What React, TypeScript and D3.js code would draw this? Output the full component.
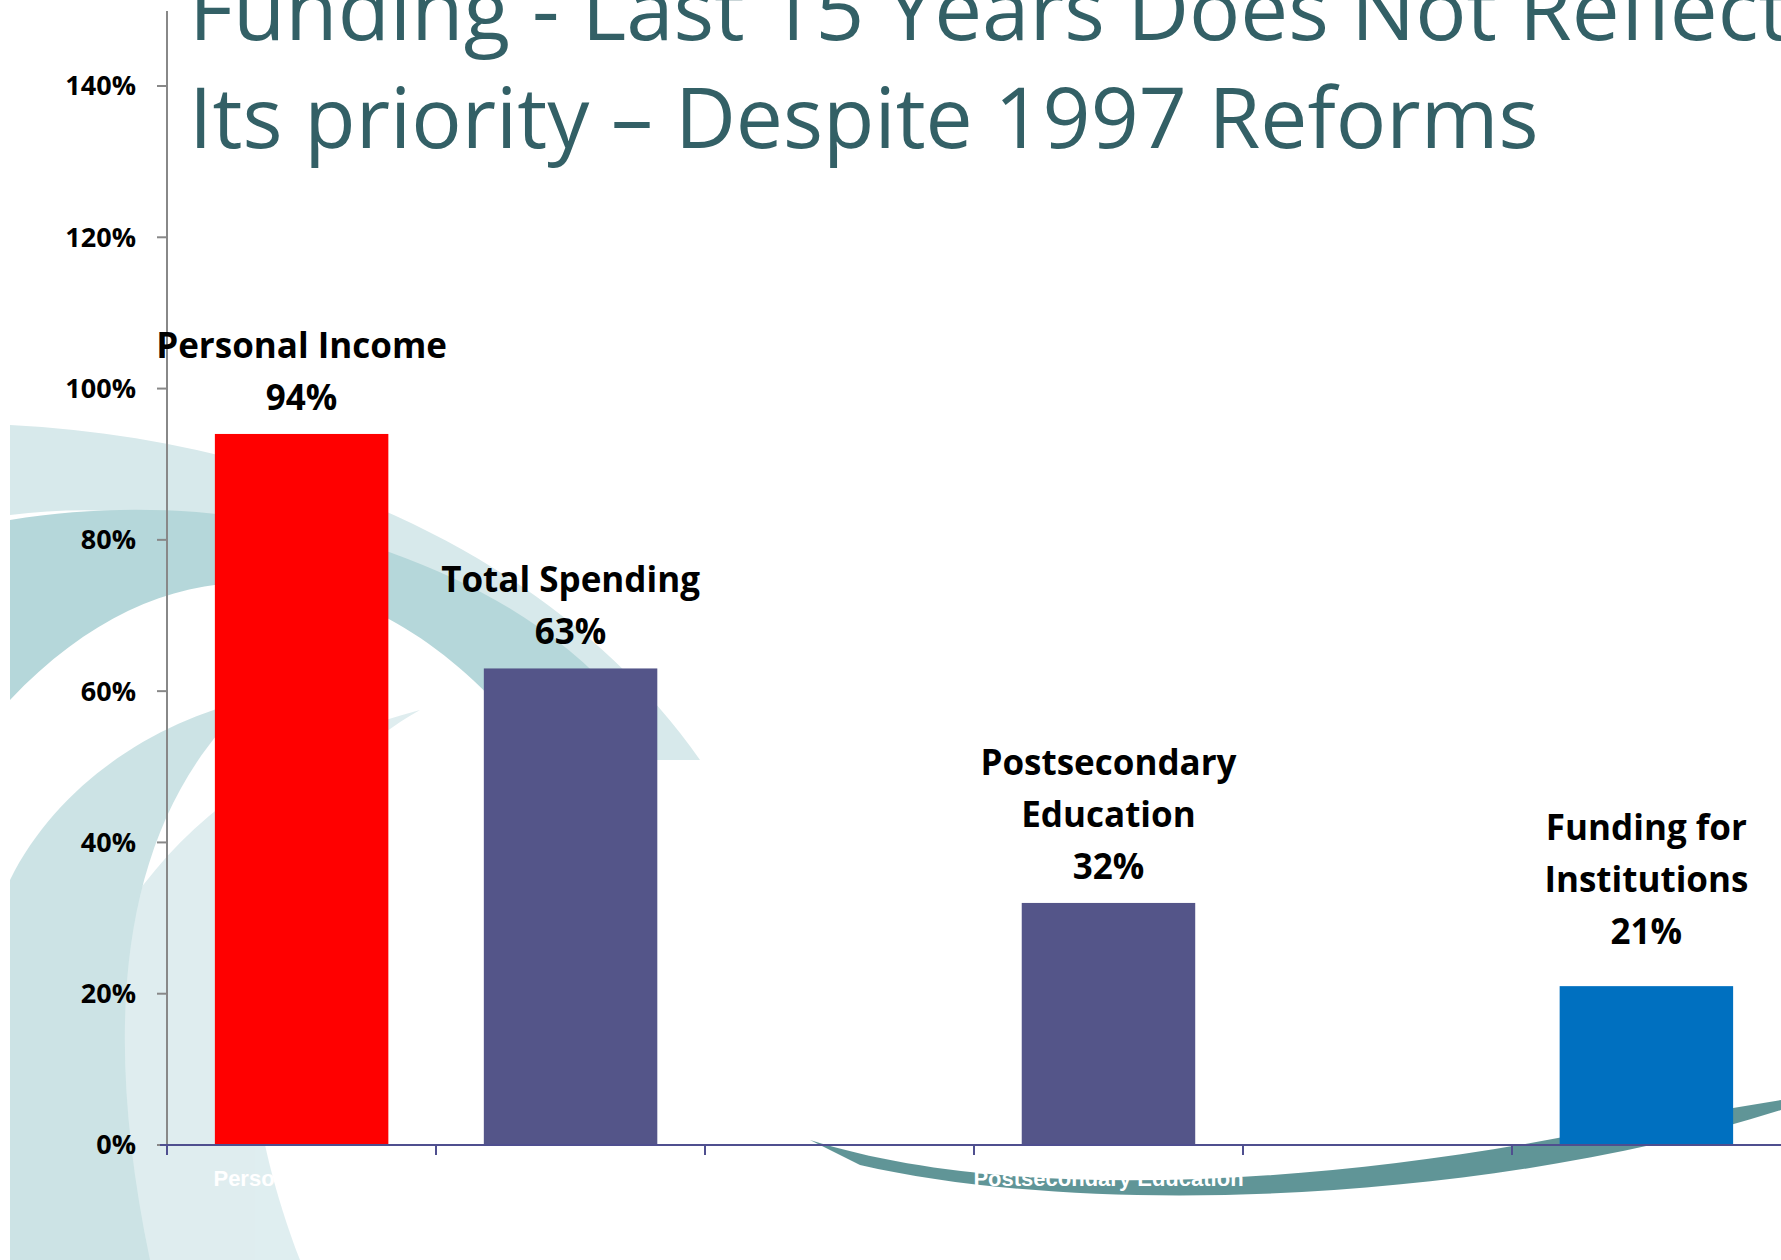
import * as d3 from "d3";

const categories = ["Personal Income", "Total Spending", "", "Postsecondary Education", "", "Funding for Institutions"];
const values = [94, 63, null, 32, null, 21];
const labelLines = [["Personal Income", "94%"], ["Total Spending", "63%"], [], ["Postsecondary", "Education", "32%"], [], ["Funding for", "Institutions", "21%"]];
const barColors = ["#ff0000", "#545589", "", "#545589", "", "#0070c0"];
const yTicks = [0, 20, 40, 60, 80, 100, 120, 140];

const W = 1781, H = 1260;
const labelGap = [24, 24, 0, 24, 0, 42];
const x = d3.scaleBand<number>().domain(d3.range(categories.length)).range([167, 167 + 269 * 6]).paddingInner(0.355).paddingOuter(0.178);
const y = d3.scaleLinear().domain([0, 140]).range([1145, 86]);

export default function App() {
  const band = d3.scaleBand<number>().domain(d3.range(6)).range([167, 167 + 269 * 6]);
  return (
    <svg width={W} height={H} style={{ position: "absolute", left: 0, top: 0, background: "#fff" }} fontFamily="'Open Sans', sans-serif">
      {/* background swirl decoration */}
      <g opacity={0.9}>
        <path d="M10,425 C300,440 560,560 700,760 L560,760 C430,560 200,490 10,515 Z" fill="#d3e7e9" />
        <path d="M10,520 C250,480 500,560 620,700 L520,730 C380,560 180,520 10,700 Z" fill="#aed3d6" />
        <path d="M55,1260 C20,1000 150,780 420,710 C260,800 200,1000 300,1260 Z" fill="#dcecee" />
        <path d="M10,1260 L10,880 C60,780 160,720 250,700 C120,820 100,1020 150,1260 Z" fill="#c7e1e3" />
        <path d="M810,1140 C1000,1200 1300,1190 1600,1130 L1781,1100 L1781,1110 C1500,1200 1100,1220 860,1165 Z" fill="#4f8a8c" />
      </g>
      <text fill="#336066" fontSize={84} fontFamily="'Open Sans', sans-serif">
        <tspan x={189} y={40} textLength={1600} lengthAdjust="spacingAndGlyphs">Funding  - Last 15 Years Does Not Reflect</tspan>
        <tspan x={189} y={148}>Its priority – Despite 1997 Reforms</tspan>
      </text>
      {/* y axis */}
      <line x1={167} x2={167} y1={11} y2={y(0)} stroke="#888" strokeWidth={2} />
      {yTicks.map((t) => (
        <g key={t}>
          <line x1={157} x2={167} y1={y(t)} y2={y(t)} stroke="#888" strokeWidth={2} />
          <text x={136} y={y(t)} dy="0.35em" textAnchor="end" fontWeight="bold" fontSize={27} fontFamily="'Open Sans', sans-serif">{t}%</text>
        </g>
      ))}
      {/* bars */}
      {values.map((v, i) => v == null ? null : (
        <rect key={i} x={x(i)} y={y(v)} width={x.bandwidth()} height={y(0) - y(v)} fill={barColors[i]} />
      ))}
      {/* x axis */}
      <line x1={160} x2={W} y1={y(0)} y2={y(0)} stroke="#4f4f8f" strokeWidth={2} />
      {d3.range(6).map((i) => (
        <line key={i} x1={band(i)} x2={band(i)} y1={y(0)} y2={y(0) + 10} stroke="#4f4f8f" strokeWidth={2} />
      ))}
      {categories.map((c, i) => (
        <text key={i} x={band(i)! + band.bandwidth() / 2} y={1186} textAnchor="middle" fill="#fff" fontSize={22} fontFamily="'Liberation Sans', Arial, sans-serif" fontWeight="bold">{c}</text>
      ))}
      {/* data labels */}
      {values.map((v, i) => {
        if (v == null) return null;
        const lines = labelLines[i];
        const cx = x(i)! + x.bandwidth() / 2;
        return (
          <text key={i} textAnchor="middle" fontWeight="bold" fontSize={35} fontFamily="'Open Sans', sans-serif">
            {lines.map((l, j) => (
              <tspan key={j} x={cx} y={y(v) - labelGap[i] - (lines.length - 1 - j) * 52}>{l}</tspan>
            ))}
          </text>
        );
      })}
    </svg>
  );
}
